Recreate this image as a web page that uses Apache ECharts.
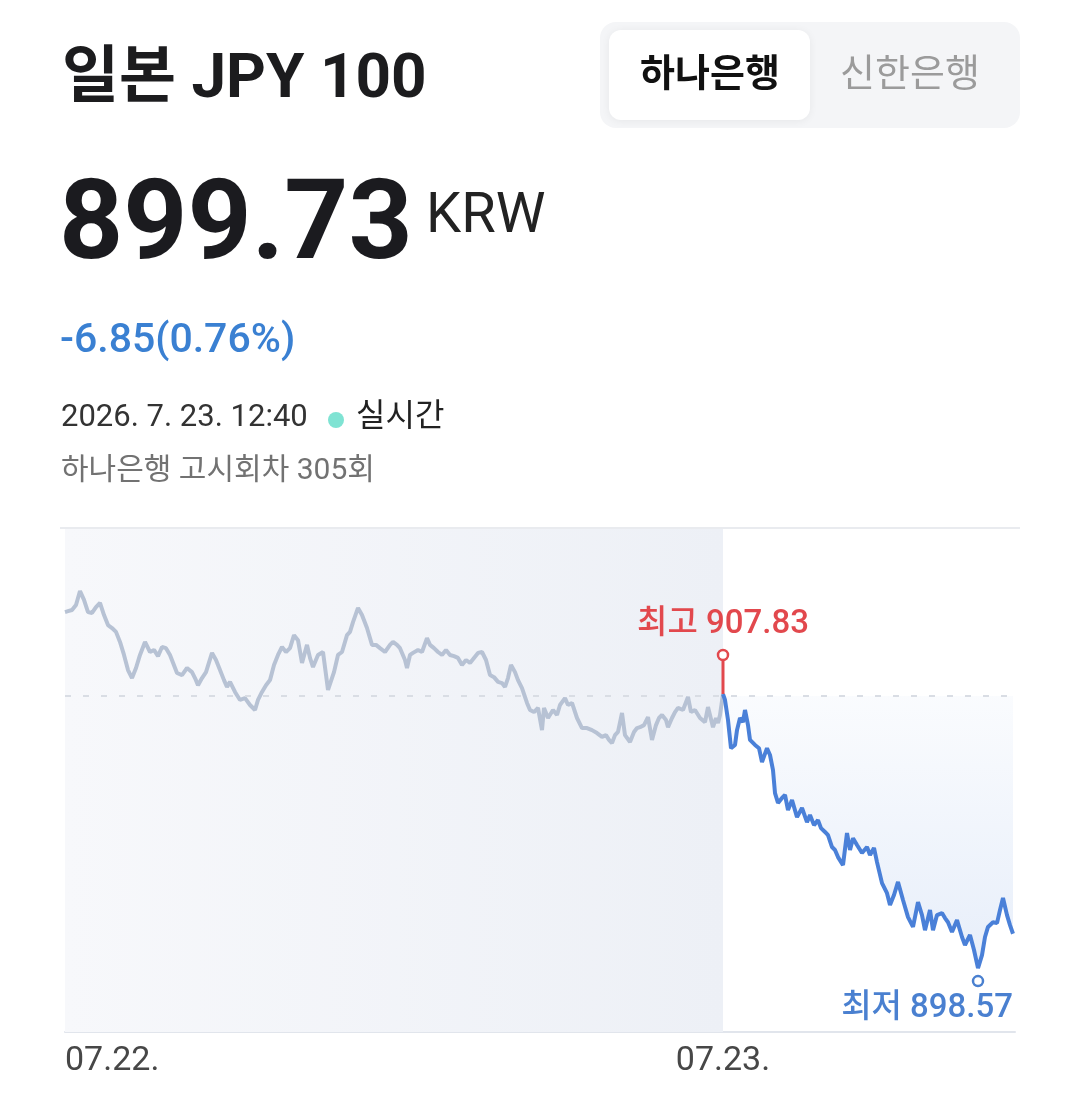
<!DOCTYPE html>
<html>
<head>
<meta charset="utf-8">
<script src="https://cdn.jsdelivr.net/npm/echarts@6/dist/echarts.min.js"></script>
<style>
html,body{margin:0;padding:0;background:#fff;}
#chart{width:1080px;height:1118px;}
</style>
</head>
<body>
<div id="chart"></div>
<script>
// ---- data (minutes since start of 07.22 session, KRW per 100 JPY) ----
const dayLabels = ['07.22.', '07.23.'];
const dayBoundary = 658;   // minute at which 07.23 starts
const axisEnd = 950;

const prevMinutes = [0,3,7,11,15,19,23,27,31,35,39,43,47,51,55,59,63,67,71,75,80,85,89,93,97,101,105,112,117,122,127,130,133,137,141,147,151,155,159,162,165,170,175,180,185,190,193,197,201,205,209,213,217,221,225,229,233,237,242,245,248,253,258,263,269,273,277,282,285,288,293,297,302,307,311,315,320,325,328,332,335,340,342,345,348,353,357,362,365,369,373,377,381,385,389,393,397,401,405,409,413,417,421,425,429,433,437,440,443,446,450,453,457,462,465,469,473,477,479,483,488,492,495,500,503,507,512,517,522,527,532,537,541,544,547,550,553,557,560,565,569,572,575,579,583,587,591,594,597,601,603,607,610,613,618,623,626,630,635,640,643,648,651,653,655,658];
const prevValues = [910.60,910.63,910.67,910.84,911.31,911.01,910.60,910.57,910.77,910.91,910.50,910.16,910.06,909.93,909.59,909.15,908.64,908.37,908.71,909.15,909.59,909.25,909.32,909.11,909.42,909.38,909.15,908.54,908.47,908.71,908.57,908.37,908.13,908.37,908.57,909.22,908.98,908.64,908.30,908.07,908.24,907.90,907.63,907.69,907.46,907.29,907.63,907.90,908.13,908.30,908.81,909.15,909.42,909.25,909.38,909.82,909.65,908.88,909.49,909.05,908.74,909.15,909.25,907.97,908.57,909.15,909.25,909.82,909.93,910.26,910.74,910.50,910.06,909.49,909.49,909.38,909.25,909.49,909.59,909.49,909.38,908.98,908.71,909.15,909.22,909.32,909.25,909.72,909.49,909.38,909.25,909.15,909.32,909.15,909.11,909.05,908.81,908.98,908.88,909.05,909.22,909.25,908.98,908.47,908.40,908.24,908.20,908.07,908.37,908.81,908.57,908.30,908.03,907.53,907.29,907.22,907.36,906.61,907.36,907.02,907.29,907.12,907.46,907.69,907.46,907.53,907.02,906.68,906.68,906.61,906.51,906.38,906.44,906.28,906.17,906.44,906.55,907.19,906.44,906.21,906.55,906.68,906.71,906.78,907.05,906.28,906.78,907.02,907.12,906.95,906.71,907.02,907.22,907.36,907.29,907.73,907.22,907.29,907.02,906.88,907.39,906.71,907.02,906.85,907.12,907.83];

const todayMinutes = [658,660,663,666,670,672,675,678,680,683,685,690,694,697,702,705,708,710,713,717,720,723,727,732,737,742,745,749,753,756,760,763,767,770,773,778,782,785,788,792,797,802,805,809,812,817,822,825,829,833,838,843,848,853,857,860,865,868,872,877,880,883,887,892,897,900,905,909,913,917,920,923,928,932,935,938,942,945,948];
const todayValues = [907.83,907.63,906.95,906.00,906.11,906.61,907.02,906.88,907.29,906.78,906.28,906.11,906.00,905.53,906.00,905.77,905.26,904.48,904.15,904.32,904.42,903.91,904.25,903.67,903.98,903.50,903.74,903.40,903.57,903.30,903.17,903.06,902.66,902.56,902.32,902.05,903.13,902.56,902.96,902.73,902.46,902.66,902.39,902.63,902.15,901.44,901.10,900.70,901.04,901.48,900.87,900.29,899.96,900.80,900.36,899.85,900.53,899.85,900.36,900.43,900.26,900.12,899.79,900.19,899.62,899.35,899.69,899.18,898.57,899.01,899.62,899.96,900.12,900.09,900.53,900.94,900.36,900.02,899.73];

const highValue = 907.83, highMinute = 658;
const lowValue = 898.57, lowMinute = 913;
const baseValue = 907.76;
const currentValue = 899.73;
const changeValue = -6.85, changePct = 0.76;
const timestampText = '2026. 7. 23. 12:40';
const noticeText = '하나은행 고시회차 305회';

// ---- chart ----
const chart = echarts.init(document.getElementById('chart'), null, {renderer: 'canvas'});
const FONT = 'Roboto, "Noto Sans CJK KR", sans-serif';
const zip = (a, b) => a.map((x, i) => [x, b[i]]);

const option = {
  backgroundColor: '#ffffff',
  animation: false,
  grid: {left: 65, right: 65, top: 528, bottom: 86},
  xAxis: {
    type: 'value', min: 0, max: axisEnd,
    axisLine: {show: true, lineStyle: {color: '#e1e5ec', width: 2}},
    axisTick: {show: false},
    splitLine: {show: false},
    axisLabel: {
      customValues: [0, dayBoundary],
      formatter: v => (v < dayBoundary ? dayLabels[0] : dayLabels[1]),
      alignMinLabel: 'left',
      fontSize: 34, color: '#474747', fontFamily: FONT, margin: 12
    }
  },
  yAxis: {type: 'value', min: 896.41, max: 913.44, show: false, splitLine: {show: false}},
  graphic: [
    {type: 'line', shape: {x1: 60, y1: 528, x2: 1020, y2: 528}, style: {stroke: '#e9ebef', lineWidth: 2}, z: 100},
    {type: 'text', left: 62, top: 50, style: {text: '일본 JPY 100', font: 'bold 62px ' + FONT, fill: '#1c1c1e'}},
    {type: 'text', left: 59, top: 174, style: {text: currentValue.toFixed(2), font: 'bold 112px ' + FONT, fill: '#1b1b1f'}},
    {type: 'text', left: 426, top: 190, style: {text: 'KRW', font: '56px ' + FONT, fill: '#222'}},
    {type: 'text', left: 60, top: 321, style: {text: changeValue.toFixed(2) + '(' + changePct.toFixed(2) + '%)', font: '500 41px ' + FONT, fill: '#3a80d2'}},
    {type: 'text', left: 61, top: 403, style: {text: timestampText, font: '31px ' + FONT, fill: '#333'}},
    {type: 'circle', shape: {cx: 336, cy: 420, r: 8}, style: {fill: '#7fe3d3'}},
    {type: 'text', left: 356, top: 402, style: {text: '실시간', font: '32px ' + FONT, fill: '#222'}},
    {type: 'text', left: 61, top: 456, style: {text: noticeText, font: '30px ' + FONT, fill: '#727272'}},
    {type: 'rect', shape: {x: 600, y: 22, width: 420, height: 106, r: 16}, style: {fill: '#f4f5f7'}},
    {type: 'rect', shape: {x: 609, y: 30, width: 201, height: 90, r: 12}, style: {fill: '#ffffff', shadowBlur: 8, shadowColor: 'rgba(0,0,0,0.06)', shadowOffsetY: 1}},
    {type: 'text', x: 710, y: 76, style: {text: '하나은행', font: 'bold 38px ' + FONT, fill: '#111', align: 'center', verticalAlign: 'middle'}},
    {type: 'text', x: 910, y: 76, style: {text: '신한은행', font: '38px ' + FONT, fill: '#9b9b9b', align: 'center', verticalAlign: 'middle'}}
  ],
  series: [
    {
      type: 'line', data: zip(prevMinutes, prevValues), showSymbol: false, symbol: 'none',
      lineStyle: {color: '#b7c2d4', width: 4}, z: 3,
      markArea: {
        silent: true,
        itemStyle: {color: new echarts.graphic.LinearGradient(0, 0, 1, 0, [
          {offset: 0, color: 'rgba(247,248,251,1)'}, {offset: 1, color: 'rgba(237,240,246,1)'}])},
        data: [[{xAxis: 0}, {xAxis: dayBoundary}]]
      }
    },
    {
      type: 'line', data: zip(todayMinutes, todayValues), showSymbol: false, symbol: 'none',
      lineStyle: {color: '#4a80d8', width: 4}, z: 4,
      areaStyle: {
        origin: baseValue,
        color: new echarts.graphic.LinearGradient(0, 0, 0, 1, [
          {offset: 0, color: 'rgba(74,128,216,0.04)'}, {offset: 1, color: 'rgba(74,128,216,0.19)'}])
      },
      markLine: {
        silent: true, symbol: 'none', label: {show: false},
        lineStyle: {color: '#d9dde4', type: [6, 12], width: 2},
        data: [{yAxis: baseValue}]
      }
    },
    {
      type: 'custom', clip: false, z: 10,
      data: [[highMinute, highValue], [lowMinute, lowValue]],
      renderItem: function (params, api) {
        const pt = api.coord([api.value(0), api.value(1)]);
        const cs = params.coordSys;
        if (params.dataIndex === 0) {
          const red = '#e2484d';
          return {type: 'group', children: [
            {type: 'line', shape: {x1: pt[0], y1: pt[1], x2: pt[0], y2: pt[1] - 34}, style: {stroke: red, lineWidth: 3}},
            {type: 'circle', shape: {cx: pt[0], cy: pt[1] - 39, r: 5}, style: {fill: '#fff', stroke: red, lineWidth: 2.5}},
            {type: 'text', x: pt[0], y: pt[1] - 69, style: {text: '최고 ' + highValue.toFixed(2), font: '500 33px ' + FONT, fill: red, align: 'center', verticalAlign: 'middle'}}
          ]};
        } else {
          const blue = '#4a80d0';
          return {type: 'group', children: [
            {type: 'circle', shape: {cx: pt[0], cy: pt[1] + 13, r: 5}, style: {fill: '#fff', stroke: blue, lineWidth: 2.5}},
            {type: 'text', x: cs.x + cs.width - 2, y: pt[1] + 41, style: {text: '최저 ' + lowValue.toFixed(2), font: '500 33px ' + FONT, fill: blue, align: 'right', verticalAlign: 'middle'}}
          ]};
        }
      }
    }
  ]
};
chart.setOption(option);
</script>
</body>
</html>
